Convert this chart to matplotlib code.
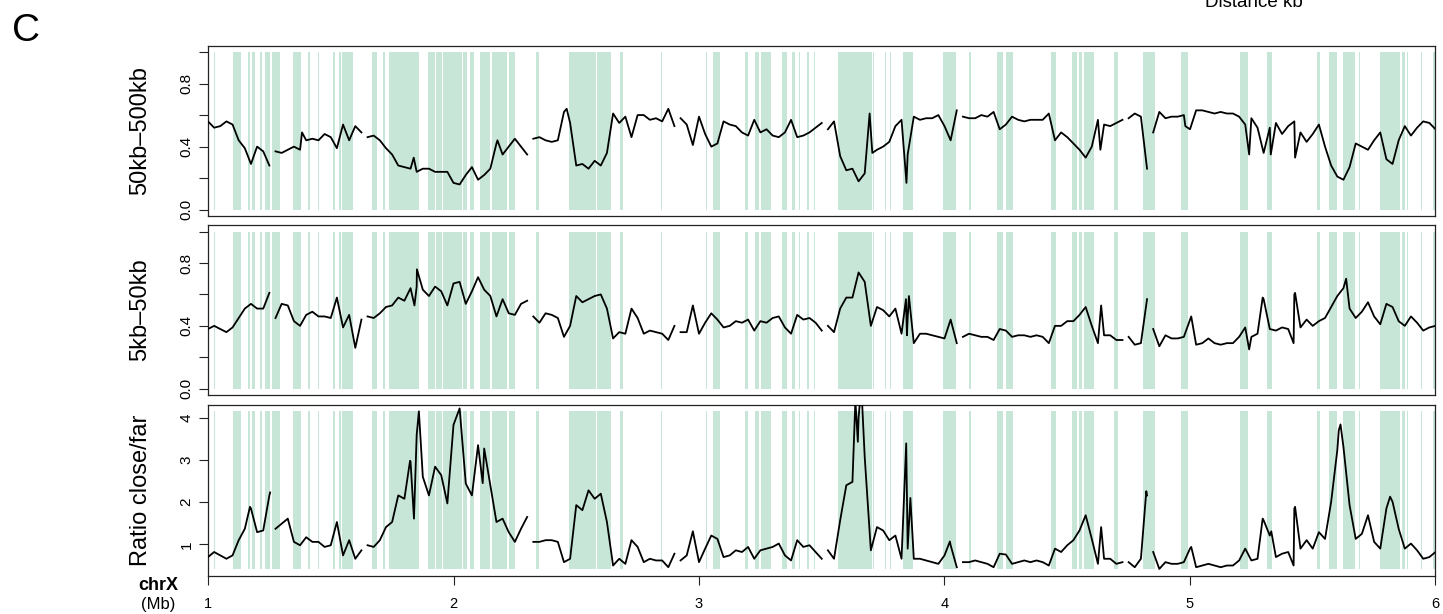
import numpy as np
import matplotlib
matplotlib.use("Agg")
import matplotlib.pyplot as plt

plt.rcParams['font.family'] = ['Liberation Sans', 'DejaVu Sans']

# Bin positions along chrX (Mb)
pos_mb = np.round(np.arange(1.0, 6.0001, 0.025), 3)

# Contact fraction 50kb-500kb (one row = 0.25 Mb)
far_vals = [
    0.56, 0.52, 0.53, 0.56, 0.54, 0.44, 0.39, 0.29, 0.40, 0.37,
    0.28, 0.37, 0.36, 0.38, 0.40, 0.38, 0.44, 0.45, 0.44, 0.48,
    0.46, 0.39, 0.54, 0.44, 0.53, 0.49, 0.46, 0.47, 0.44, 0.39,
    0.35, 0.28, 0.27, 0.26, 0.24, 0.26, 0.26, 0.24, 0.24, 0.24,
    0.17, 0.16, 0.22, 0.27, 0.19, 0.22, 0.26, 0.42, 0.35, 0.40,
    0.45, 0.40, 0.35, 0.45, 0.46, 0.44, 0.43, 0.44, 0.62, 0.55,
    0.28, 0.29, 0.26, 0.31, 0.28, 0.36, 0.61, 0.55, 0.59, 0.46,
    0.60, 0.60, 0.57, 0.58, 0.56, 0.64, 0.53, 0.58, 0.54, 0.41,
    0.59, 0.48, 0.40, 0.42, 0.56, 0.54, 0.53, 0.49, 0.47, 0.57,
    0.49, 0.51, 0.47, 0.46, 0.49, 0.57, 0.46, 0.47, 0.49, 0.52,
    0.55, 0.51, 0.56, 0.34, 0.25, 0.26, 0.18, 0.23, 0.50, 0.38,
    0.40, 0.43, 0.53, 0.57, 0.35, 0.59, 0.57, 0.58, 0.58, 0.60,
    0.53, 0.44, 0.63, 0.59, 0.58, 0.58, 0.60, 0.59, 0.62, 0.51,
    0.54, 0.59, 0.57, 0.56, 0.57, 0.57, 0.57, 0.61, 0.44, 0.49,
    0.46, 0.42, 0.38, 0.33, 0.40, 0.57, 0.54, 0.53, 0.55, 0.57,
    0.58, 0.61, 0.59, 0.26, 0.49, 0.62, 0.58, 0.59, 0.59, 0.60,
    0.51, 0.63, 0.63, 0.62, 0.61, 0.62, 0.61, 0.61, 0.59, 0.54,
    0.58, 0.52, 0.36, 0.52, 0.55, 0.48, 0.53, 0.56, 0.49, 0.43,
    0.48, 0.54, 0.40, 0.28, 0.21, 0.19, 0.27, 0.42, 0.40, 0.38,
    0.44, 0.49, 0.32, 0.29, 0.44, 0.53, 0.47, 0.52, 0.56, 0.55,
    0.51,
]

# Contact fraction 5kb-50kb
close_vals = [
    0.38, 0.40, 0.38, 0.36, 0.39, 0.45, 0.51, 0.54, 0.51, 0.51,
    0.61, 0.45, 0.54, 0.53, 0.43, 0.40, 0.47, 0.49, 0.46, 0.46,
    0.45, 0.58, 0.39, 0.47, 0.26, 0.44, 0.46, 0.45, 0.48, 0.52,
    0.53, 0.58, 0.56, 0.64, 0.65, 0.63, 0.59, 0.65, 0.62, 0.53,
    0.67, 0.68, 0.54, 0.62, 0.71, 0.63, 0.59, 0.46, 0.57, 0.48,
    0.47, 0.54, 0.56, 0.46, 0.42, 0.48, 0.47, 0.45, 0.33, 0.40,
    0.59, 0.55, 0.57, 0.59, 0.60, 0.51, 0.32, 0.36, 0.35, 0.51,
    0.45, 0.35, 0.37, 0.36, 0.35, 0.31, 0.40, 0.36, 0.36, 0.53,
    0.35, 0.42, 0.48, 0.44, 0.39, 0.40, 0.43, 0.42, 0.44, 0.37,
    0.43, 0.42, 0.45, 0.46, 0.39, 0.35, 0.47, 0.44, 0.45, 0.42,
    0.37, 0.40, 0.36, 0.51, 0.58, 0.58, 0.74, 0.68, 0.40, 0.52,
    0.50, 0.46, 0.51, 0.35, 0.45, 0.29, 0.35, 0.35, 0.34, 0.33,
    0.32, 0.44, 0.29, 0.33, 0.35, 0.34, 0.33, 0.33, 0.31, 0.38,
    0.37, 0.33, 0.34, 0.34, 0.33, 0.34, 0.33, 0.29, 0.40, 0.40,
    0.43, 0.43, 0.47, 0.52, 0.40, 0.29, 0.34, 0.34, 0.31, 0.31,
    0.33, 0.28, 0.29, 0.57, 0.38, 0.27, 0.34, 0.32, 0.32, 0.33,
    0.44, 0.28, 0.29, 0.32, 0.29, 0.28, 0.29, 0.29, 0.33, 0.39,
    0.33, 0.35, 0.57, 0.38, 0.37, 0.39, 0.38, 0.60, 0.39, 0.44,
    0.40, 0.43, 0.45, 0.52, 0.59, 0.64, 0.51, 0.45, 0.49, 0.55,
    0.46, 0.41, 0.54, 0.52, 0.43, 0.40, 0.46, 0.42, 0.37, 0.39,
    0.40,
]

# Ratio close/far
ratio_vals = [
    0.70, 0.82, 0.74, 0.66, 0.74, 1.10, 1.37, 1.85, 1.29, 1.33,
    2.16, 1.37, 1.49, 1.61, 1.06, 0.98, 1.17, 1.06, 1.06, 0.94,
    0.98, 1.53, 0.74, 1.10, 0.66, 0.86, 0.98, 0.94, 1.10, 1.41,
    1.53, 2.16, 2.08, 2.96, 3.59, 2.60, 2.16, 2.84, 2.64, 1.97,
    3.83, 4.22, 2.44, 2.16, 3.35, 3.27, 2.40, 1.53, 1.61, 1.29,
    1.06, 1.37, 1.65, 1.06, 1.06, 1.10, 1.10, 1.06, 0.58, 0.66,
    1.93, 1.81, 2.28, 2.08, 2.20, 1.53, 0.50, 0.66, 0.54, 1.10,
    0.94, 0.58, 0.66, 0.62, 0.62, 0.46, 0.78, 0.62, 0.74, 1.31,
    0.58, 0.90, 1.21, 1.13, 0.70, 0.74, 0.86, 0.82, 0.94, 0.66,
    0.86, 0.90, 0.94, 1.02, 0.74, 0.62, 1.10, 0.94, 0.98, 0.82,
    0.66, 0.86, 0.66, 1.57, 2.40, 2.48, 4.00, 3.07, 0.86, 1.41,
    1.33, 1.10, 1.21, 0.66, 0.90, 0.66, 0.66, 0.62, 0.58, 0.54,
    0.74, 0.98, 0.46, 0.58, 0.58, 0.62, 0.58, 0.54, 0.46, 0.78,
    0.76, 0.54, 0.58, 0.62, 0.58, 0.62, 0.58, 0.50, 0.90, 0.82,
    0.98, 1.10, 1.33, 1.69, 1.13, 0.54, 0.66, 0.66, 0.54, 0.58,
    0.58, 0.46, 0.66, 2.16, 0.82, 0.42, 0.58, 0.54, 0.54, 0.58,
    0.90, 0.46, 0.50, 0.54, 0.50, 0.46, 0.50, 0.50, 0.62, 0.90,
    0.62, 0.66, 1.57, 1.21, 0.70, 0.78, 0.82, 1.85, 0.90, 1.10,
    0.90, 1.29, 1.13, 2.01, 3.23, 3.31, 1.93, 1.13, 1.25, 1.69,
    1.06, 0.90, 1.85, 2.01, 1.37, 0.90, 1.02, 0.86, 0.66, 0.70,
    0.82,
]

# Narrow peaks/dips that fall between bins
far_extra_x = [1.383, 1.838, 2.179, 2.461, 3.695, 3.706, 3.845, 4.635, 4.981, 5.241, 5.329, 5.428]
far_extra_y = [0.49, 0.33, 0.44, 0.64, 0.61, 0.36, 0.17, 0.38, 0.53, 0.35, 0.35, 0.33]
close_extra_x = [1.841, 1.851, 3.843, 3.847, 3.855, 4.638, 5.005, 5.241, 5.296, 5.422, 5.428, 5.636]
close_extra_y = [0.53, 0.76, 0.57, 0.34, 0.59, 0.53, 0.46, 0.25, 0.58, 0.29, 0.61, 0.70]
ratio_extra_x = [1.171, 1.253, 1.823, 1.839, 1.859, 2.119, 3.637, 3.647, 3.656, 3.664, 3.844,
                 3.861, 4.022, 4.638, 4.822, 5.005, 5.296, 5.331, 5.422, 5.428, 5.606, 5.613, 5.815]
ratio_extra_y = [1.89, 2.23, 2.98, 1.61, 4.15, 2.45, 4.40, 3.43, 4.40, 4.40, 3.39,
                 2.10, 1.07, 1.41, 2.26, 0.94, 1.61, 1.31, 0.50, 1.89, 3.70, 3.84, 2.13]

# Positions with no data (line breaks)
gap_mb = [1.262, 1.64, 2.31, 2.907, 3.51, 4.06, 4.727, 4.835]

# Highlighted domains (start, end) in Mb
band_start = [1.024, 1.102, 1.164, 1.179, 1.212, 1.232, 1.261, 1.346, 1.407, 1.448, 1.509, 1.534,
              1.546, 1.668, 1.713, 1.738, 1.896, 1.929, 1.958, 2.039, 2.068, 2.108, 2.157, 2.227,
              2.337, 2.471, 2.585, 2.679, 2.846, 3.029, 3.058, 3.188, 3.229, 3.253, 3.339, 3.380,
              3.408, 3.441, 3.470, 3.567, 3.710, 3.759, 3.779, 3.832, 3.995, 4.101, 4.215, 4.252,
              4.435, 4.521, 4.549, 4.570, 4.692, 4.810, 4.965, 5.205, 5.315, 5.519, 5.568, 5.625,
              5.690, 5.772, 5.865, 5.882, 5.939, 5.988]
band_end = [1.029, 1.134, 1.171, 1.192, 1.220, 1.253, 1.293, 1.379, 1.416, 1.452, 1.518, 1.542,
            1.591, 1.689, 1.721, 1.860, 1.925, 1.954, 2.035, 2.055, 2.084, 2.149, 2.218, 2.251,
            2.349, 2.581, 2.642, 2.691, 2.850, 3.033, 3.086, 3.200, 3.246, 3.294, 3.360, 3.392,
            3.413, 3.450, 3.474, 3.706, 3.714, 3.763, 3.783, 3.873, 4.048, 4.109, 4.240, 4.280,
            4.456, 4.541, 4.562, 4.610, 4.708, 4.859, 4.993, 5.238, 5.336, 5.531, 5.600, 5.674,
            5.694, 5.857, 5.874, 5.890, 5.947, 6.000]

band_color = '#c7e6d8'
edge_color = '#222222'


def build_track(values, extra_x, extra_y):
    # Merge the regular bins, extra points and gaps, sorted by position
    x = np.concatenate([pos_mb, extra_x, gap_mb])
    y = np.concatenate([values, extra_y, np.full(len(gap_mb), np.nan)])
    order = np.argsort(x, kind='stable')
    return x[order], y[order]


def draw_panel(ax, values, extra_x, extra_y, band_lo, band_hi, ylim, ylabel):
    spans = [(s, e - s) for s, e in zip(band_start, band_end)]
    ax.broken_barh(spans, (band_lo, band_hi - band_lo), facecolors=band_color,
                   edgecolors='none', zorder=1)
    x, y = build_track(values, extra_x, extra_y)
    ax.plot(x, y, color='black', lw=1.3, zorder=3)
    ax.set_xlim(1, 6)
    ax.set_ylim(*ylim)
    for s in ax.spines.values():
        s.set_color(edge_color)
        s.set_linewidth(0.9)
    ax.tick_params(axis='y', direction='out', length=6.5, width=0.8, color=edge_color,
                   labelsize=11, pad=4)
    ax.set_ylabel(ylabel, fontsize=17)
    ax.yaxis.set_label_coords(-0.046, 0.5)


fig = plt.figure(figsize=(14.43, 6.14), dpi=100)

left = 208 / 1443
width = 1227.5 / 1443
ax1 = fig.add_axes([left, 1 - 216 / 614, width, 170.3 / 614])
ax2 = fig.add_axes([left, 1 - 395 / 614, width, 169.7 / 614])
ax3 = fig.add_axes([left, 1 - 575.5 / 614, width, 170.5 / 614])

frac_ticks = [0.0, 0.2, 0.4, 0.6, 0.8, 1.0]
frac_labels = ['0.0', '', '0.4', '', '0.8', '']

draw_panel(ax1, far_vals, far_extra_x, far_extra_y, 0.0, 1.0, (-0.04, 1.04), '50kb–500kb')
draw_panel(ax2, close_vals, close_extra_x, close_extra_y, 0.0, 1.0, (-0.04, 1.04), '5kb–50kb')
draw_panel(ax3, ratio_vals, ratio_extra_x, ratio_extra_y, 0.41, 4.15, (0.264, 4.30), 'Ratio close/far')

for ax in (ax1, ax2):
    ax.set_yticks(frac_ticks)
    ax.set_yticklabels(frac_labels, rotation=90, va='center')
    ax.set_xticks([])

ax3.set_yticks([1, 2, 3, 4])
ax3.set_yticklabels(['1', '2', '3', '4'], rotation=90, va='center')
ax3.set_xticks([1, 2, 3, 4, 5, 6])
ax3.set_xticklabels(['1', '2', '3', '4', '5', '6'])
ax3.tick_params(axis='x', direction='out', length=6.5, width=0.8, color=edge_color,
                labelsize=10.5, pad=9)

# Axis annotations
fig.text(158 / 1443, 1 - 586 / 614, 'chrX', fontsize=13, fontweight='bold', ha='center', va='center')
fig.text(158 / 1443, 1 - 605 / 614, '(Mb)', fontsize=12, ha='center', va='center')
fig.text(26 / 1443, 1 - 31 / 614, 'C', fontsize=28, ha='center', va='center')
fig.text(1254 / 1443, 1 - 7 / 614, 'Distance kb', fontsize=13.5, ha='center', va='baseline')

fig.savefig('out.png', dpi=100)
